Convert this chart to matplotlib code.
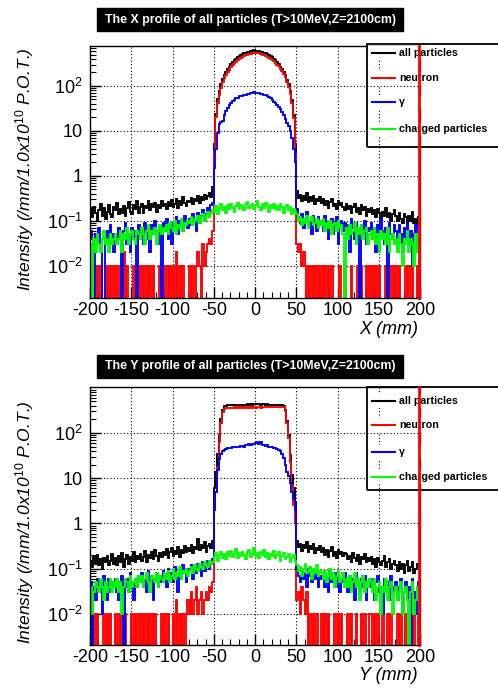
import numpy as np
import matplotlib
matplotlib.use('Agg')
import matplotlib.pyplot as plt
from matplotlib.lines import Line2D
from matplotlib.patches import Rectangle
from matplotlib.transforms import blended_transform_factory
from matplotlib.ticker import FixedLocator, LogLocator, NullFormatter, MultipleLocator, FuncFormatter

plt.rcParams['font.family'] = ['Liberation Sans', 'DejaVu Sans']
plt.rcParams['mathtext.fontset'] = 'custom'
plt.rcParams['mathtext.rm'] = 'Liberation Sans'
plt.rcParams['mathtext.it'] = 'Liberation Sans:italic'
plt.rcParams['mathtext.bf'] = 'Liberation Sans:bold'
plt.rcParams['axes.unicode_minus'] = False

# ---------------- data ----------------
# 2 mm bins from -200 to 200 mm; values in units of 0.01 /mm/1e10 POT
X_EDGES = np.linspace(-200, 200, 201)
UNIT = 0.01
LEGEND_LABELS = ["all particles", "neutron", "\u03b3", "charged particles"]
SERIES_COLORS = ["#000000", "#ff0000", "#0000ff", "#00ff00"]
X_TICKS = [-200, -150, -100, -50, 0, 50, 100, 150, 200]
Y_TICKS = [0.01, 0.1, 1, 10, 100]

all_x = [
    18,12,20,15,10,17,24,13,19,11,16,22,14,12,20,
    17,25,14,18,15,21,13,19,26,16,14,22,18,27,15,
    20,24,15,21,19,28,17,23,20,25,16,22,19,27,21,
    24,18,26,21,29,20,24,31,19,27,22,33,25,21,28,
    26,32,24,30,27,35,25,33,29,38,31,36,42,34,55,
    500,2400,5000,7800,10800,14000,17200,20500,23800,27000,
    30500,33800,37000,40200,43000,45800,48200,50500,52800,54800,
    56200,58000,59200,60600,61800,61200,60400,59800,58000,56600,
    54600,53000,50400,48500,45600,43200,40000,37200,33600,30600,
    26800,24000,20400,17400,13800,11000,7600,4800,2300,500,
    45,32,38,27,35,29,41,26,33,28,36,24,31,27,34,
    25,30,22,28,19,26,31,21,24,18,27,22,25,20,17,
    23,18,21,15,20,24,16,19,14,22,17,20,13,18,16,
    19,14,17,12,18,15,11,16,13,19,12,15,10,14,17,
    13,10,15,11,9,14,12,8,13,10,16,9,11,8,12]

neutron_x = [
    1,0,1,0,1,0,1,0,0,0,1,0,1,0,1,
    0,1,0,1,0,2,0,1,0,0,0,1,0,1,0,
    1,0,1,0,1,0,1,0,1,0,0,0,1,0,1,
    0,1,0,1,0,1,0,2,0,1,0,1,0,0,0,
    1,0,1,0,1,2,1,0,3,1,2,3,4,3,6,
    350,2000,4100,6400,9200,12300,15000,17700,20500,23200,
    26300,29200,32000,34900,37400,40000,42200,44300,46500,48400,
    49600,51300,52300,53600,54600,54100,53400,52900,51200,50000,
    48200,46800,44400,42800,40300,38300,35400,33000,29800,27200,
    23700,21300,18200,15600,12300,9700,6600,4100,1900,300,
    3,2,3,1,2,1,0,1,0,1,0,1,0,1,0,
    1,0,1,0,1,0,1,0,0,0,0,1,0,0,1,
    0,0,0,1,0,0,0,1,0,1,0,0,1,0,1,
    0,1,0,1,0,1,0,0,0,1,0,1,0,1,0,
    1,0,1,0,0,0,1,0,1,0,1,0,0,1,0]

gamma_x = [
    6,4,0,5,3,7,2,0,0,4,6,3,8,5,2,
    5,3,7,4,0,6,9,3,5,2,7,4,6,0,8,
    5,7,3,9,6,4,2,8,5,10,6,3,7,0,9,
    6,11,4,8,3,9,7,12,5,10,8,6,13,9,7,
    11,8,14,10,6,15,9,13,17,11,14,19,12,22,25,
    150,400,900,1400,1550,1700,2200,2800,3300,3700,
    4200,4700,4900,5300,5500,5900,6000,6100,6400,6300,
    6600,6700,6800,7100,7200,7000,7100,6800,6700,6600,
    6300,6300,5900,5700,5300,4900,4500,4200,3800,3400,
    3100,2600,2200,1800,1500,1300,1000,700,400,200,
    18,12,9,14,7,11,16,8,10,5,13,9,6,12,8,
    10,6,13,7,4,9,11,5,8,12,3,7,10,6,9,
    5,8,2,11,7,4,9,6,0,8,5,10,3,7,6,
    9,4,7,2,8,5,11,6,3,7,0,9,5,4,8,
    6,3,8,5,2,7,4,9,3,6,1,5,8,2,4]

charged_x = [
    3,0,4,2,5,3,2,4,6,3,4,2,5,3,4,
    5,3,4,6,2,5,4,7,3,5,6,4,3,6,5,
    4,7,5,3,6,8,4,6,5,7,3,6,8,5,7,
    6,8,5,9,7,6,10,5,8,7,11,6,9,8,10,
    9,12,8,11,10,13,9,12,14,10,13,16,12,15,17,
    16,21,14,19,23,17,20,15,22,18,24,19,16,21,25,18,22,20,17,23,
    26,19,21,24,18,22,27,20,17,23,19,25,21,16,22,19,24,18,21,17,
    23,20,15,19,22,17,20,14,18,16,
    14,10,12,8,11,9,13,7,10,12,8,9,11,7,10,
    8,11,6,9,7,10,5,8,9,6,10,7,8,5,0,
    7,4,8,5,6,9,3,7,5,8,4,6,7,3,5,
    6,4,7,3,5,2,6,4,5,3,7,2,4,5,3,
    4,2,5,3,1,4,3,6,2,4,3,1,5,2,3]

all_y = [
    15,11,18,13,20,12,16,10,17,14,19,12,15,21,13,
    17,12,19,14,22,11,16,20,13,18,15,24,14,19,16,
    21,15,18,25,14,20,17,23,16,26,19,15,22,18,24,
    20,27,17,23,29,19,25,21,30,18,26,22,32,24,28,
    25,34,22,30,27,45,26,33,29,38,24,31,35,28,40,
    600,1400,3500,9000,20000,33000,39000,40500,41000,41200,
    40800,41500,41800,41000,42000,41600,42200,41800,42500,42000,
    42800,42200,43000,42600,43200,42800,44000,43000,42600,43400,
    42800,42400,43000,42200,42600,41800,42400,41600,42000,41400,
    41800,41000,39800,33000,18000,9000,3200,1200,600,300,
    42,30,36,25,33,28,39,24,31,27,35,22,29,26,32,
    24,28,20,26,18,25,30,19,23,17,26,21,24,19,22,
    21,16,19,14,22,17,15,20,13,18,16,21,14,17,15,
    18,13,16,11,17,14,12,15,19,11,14,16,10,13,15,
    12,9,14,10,13,8,12,15,9,11,14,8,10,13,11]

neutron_y = [
    1,0,1,0,1,0,0,0,1,0,1,0,1,0,0,
    1,0,1,0,1,0,1,0,0,0,1,0,1,0,1,
    0,1,0,1,0,1,0,1,0,1,0,0,0,1,0,
    1,0,1,0,0,1,0,2,0,1,0,1,0,1,2,
    1,3,1,2,4,1,2,3,1,2,3,2,4,3,5,
    200,500,1800,6200,16500,29000,34500,35800,36200,36300,
    36000,36500,36700,36000,36800,36500,36900,36400,37300,36400,
    37300,36400,37300,36600,37300,36600,37400,37000,36200,37700,
    37200,37000,37500,37000,37500,36800,37500,36800,37400,36900,
    37600,37300,36800,30800,16500,7800,2300,700,250,100,
    2,3,1,4,2,1,3,0,1,0,1,0,1,0,0,
    1,0,1,0,1,0,0,0,1,0,1,0,1,0,0,
    0,1,0,1,0,0,1,0,0,1,0,1,0,0,1,
    1,0,1,0,1,0,0,1,0,0,1,0,1,0,0,
    0,1,0,1,0,0,1,0,1,0,0,1,0,0,1]

gamma_y = [
    5,0,4,2,6,3,5,1,7,4,2,6,3,5,4,
    6,3,2,5,7,0,4,6,3,8,5,2,6,4,7,
    5,8,4,6,3,9,5,7,2,6,8,4,7,5,9,
    7,4,10,6,8,5,11,7,3,9,6,12,8,5,10,
    9,12,6,11,8,13,10,7,14,9,12,15,10,13,16,
    200,500,1500,2600,3500,4000,4300,4500,4600,4700,
    4600,4800,4900,4800,5000,4900,5100,5200,5000,5400,
    5300,5600,5500,5800,5700,6000,6400,5800,6200,5500,
    5400,5200,5300,5000,4900,4800,4700,4600,4400,4300,
    4000,3500,2800,2000,1400,1100,800,500,350,200,
    10,7,5,9,6,8,4,10,7,5,9,6,8,4,7,
    6,8,4,7,3,9,5,6,8,4,7,3,6,5,8,
    5,3,7,4,6,2,8,5,3,6,4,7,2,5,6,
    4,6,2,5,7,3,4,1,6,3,5,2,7,4,3,
    5,2,4,6,1,3,5,2,4,0,6,3,1,4,5]

charged_y = [
    4,1,3,5,4,3,6,4,2,5,3,4,6,3,5,
    4,6,3,5,1,4,6,5,3,7,4,5,6,4,7,
    5,7,4,6,8,5,3,7,6,5,8,4,7,6,5,
    8,6,9,5,7,10,6,8,7,11,6,9,8,10,7,
    9,11,8,12,10,9,13,11,10,14,12,11,15,13,14,
    18,22,15,20,24,17,21,16,23,19,25,18,21,27,17,22,19,24,20,16,
    23,26,18,21,28,19,22,17,24,20,26,18,22,16,21,19,25,17,20,23,
    15,19,22,16,18,21,14,17,20,15,
    12,9,11,7,10,13,8,9,11,6,10,8,12,7,9,
    8,6,9,5,7,10,6,8,4,7,9,5,6,8,4,
    6,4,7,3,5,8,4,6,2,5,7,3,5,4,6,
    5,3,6,2,4,5,1,4,3,6,2,4,5,1,3,
    4,2,3,5,1,3,4,2,0,3,5,1,2,4,3]

# ---------------- layout ----------------
W, H = 498, 688
fig = plt.figure(figsize=(W / 100, H / 100), dpi=100)

def fx(px):
    return px / W

def fy(py):
    return 1 - py / H

panels = [
    dict(series=[all_x, neutron_x, gamma_x, charged_x],
         title="The X profile of all particles (T>10MeV,Z=2100cm)",
         xlabel="X (mm)", frame=(46, 298), ylim=(1.9e-3, 775),
         title_box=(8, 31), legend_box=(44, 147), legend_rows=[53, 78, 102, 129],
         xlabel_y=329, ylabel_y=169),
    dict(series=[all_y, neutron_y, gamma_y, charged_y],
         title="The Y profile of all particles (T>10MeV,Z=2100cm)",
         xlabel="Y (mm)", frame=(387, 645), ylim=(2.06e-3, 1040),
         title_box=(355, 378), legend_box=(387, 490), legend_rows=[401, 425, 452, 477],
         xlabel_y=676, ylabel_y=522),
]

AX_L, AX_R = 90, 420
YLABEL = "Intensity (/mm/1.0x10$^{\\mathit{10}}$ P.O.T.)"

def ylab(v, pos):
    m = {0.01: "$10^{-2}$", 0.1: "$10^{-1}$", 1: "1", 10: "10", 100: "$10^{2}$"}
    for k, s in m.items():
        if abs(v - k) / k < 1e-6:
            return s
    return ""

for p in panels:
    top, bot = p["frame"]
    ax = fig.add_axes([fx(AX_L), fy(bot), fx(AX_R - AX_L), (bot - top) / H])
    ax.set_yscale("log")
    ax.set_xlim(-200, 200)
    ax.set_ylim(*p["ylim"])

    # grid (dotted), below data
    for xv in X_TICKS[1:-1]:
        ax.axvline(xv, color="k", lw=0.8, ls=(0, (1, 2)), zorder=1)
    for yv in Y_TICKS:
        ax.axhline(yv, color="k", lw=0.8, ls=(0, (1, 2)), zorder=1)

    for vals, col in zip(p["series"], SERIES_COLORS):
        v = np.asarray(vals, dtype=float) * UNIT
        v = np.where(v > 0, v, 1e-7)
        ax.stairs(v, X_EDGES, baseline=None, color=col, lw=1.35, zorder=2)

    ax.xaxis.set_major_locator(FixedLocator(X_TICKS))
    ax.xaxis.set_minor_locator(MultipleLocator(10))
    ax.yaxis.set_major_locator(FixedLocator(Y_TICKS))
    ax.yaxis.set_minor_locator(LogLocator(base=10, subs=np.arange(2, 10)))
    ax.yaxis.set_minor_formatter(NullFormatter())
    ax.yaxis.set_major_formatter(FuncFormatter(ylab))
    ax.tick_params(which="both", direction="in", top=False, right=False, labelsize=13)
    ax.tick_params(which="major", length=8, width=1)
    ax.tick_params(which="minor", length=4, width=0.8)
    ax.tick_params(axis="x", pad=3)
    ax.tick_params(axis="y", pad=5)
    for s in ax.spines.values():
        s.set_linewidth(1.0)

    # title box
    t0, t1 = p["title_box"]
    fig.add_artist(Rectangle((fx(97), fy(t1)), fx(306), (t1 - t0) / H,
                             transform=fig.transFigure, facecolor="black",
                             edgecolor="black", zorder=3))
    fig.text(fx(250), fy((t0 + t1) / 2), p["title"], color="white", weight="bold",
             ha="center", va="center", fontsize=8.9, zorder=4)

    # axis titles
    fig.text(fx(418), fy(p["xlabel_y"]), p["xlabel"], ha="right", va="center",
             style="italic", fontsize=13)
    fig.text(fx(25), fy(p["ylabel_y"]), YLABEL, rotation=90, ha="center", va="center",
             style="italic", fontsize=12.6)

    # legend
    l0, l1 = p["legend_box"]
    for ry in p["legend_rows"]:
        fig.add_artist(Rectangle((fx(368), fy(ry + 7)), fx(130), 14 / H,
                                 transform=fig.transFigure, facecolor="white",
                                 edgecolor="none", zorder=3))
    fig.add_artist(Rectangle((fx(367), fy(l1)), fx(140), (l1 - l0) / H,
                             transform=fig.transFigure, facecolor="none",
                             edgecolor="black", lw=1.3, zorder=4))
    for ry, lab, col in zip(p["legend_rows"], LEGEND_LABELS, SERIES_COLORS):
        fig.add_artist(Line2D([fx(372), fx(395)], [fy(ry), fy(ry)], color=col, lw=1.5,
                              transform=fig.transFigure, zorder=5))
        fig.text(fx(399), fy(ry), lab, ha="left", va="center", weight="bold",
                 fontsize=7.7, zorder=5)

    # red vertical edge line at x = 200
    tr = blended_transform_factory(ax.transData, ax.transAxes)
    fig.add_artist(Line2D([199.3, 199.3], [0, 1], transform=tr, color="red", lw=2, zorder=10))

fig.savefig("out.png", dpi=100)
